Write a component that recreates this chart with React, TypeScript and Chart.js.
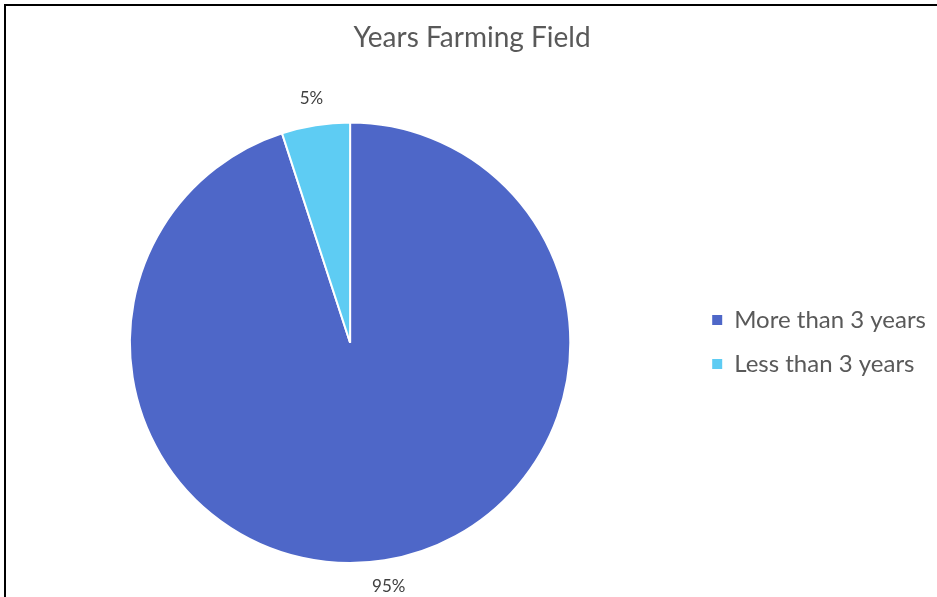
import React, { useEffect, useRef } from "react";
import { Chart, registerables } from "chart.js";

Chart.register(...registerables);

const title = "Years Farming Field";
const categories = ["More than 3 years", "Less than 3 years"];
const values = [95, 5];
const valueLabels = ["95%", "5%"];
const colors = ["#4E67C8", "#5ECCF3"];

const FONT = "Lato, 'Open Sans', sans-serif";

const outsideLabels = {
  id: "outsideLabels",
  afterDatasetsDraw(chart: any) {
    const meta = chart.getDatasetMeta(0);
    const ctx = chart.ctx;
    ctx.save();
    ctx.font = `17px ${FONT}`;
    ctx.fillStyle = "#404040";
    ctx.textAlign = "center";
    ctx.textBaseline = "middle";
    meta.data.forEach((arc: any, i: number) => {
      const { x, y, startAngle, endAngle, outerRadius } = arc.getProps(
        ["x", "y", "startAngle", "endAngle", "outerRadius"],
        true
      );
      const mid = (startAngle + endAngle) / 2;
      const r = outerRadius + 27;
      ctx.fillText(valueLabels[i], x + Math.cos(mid) * r, y + Math.sin(mid) * r);
    });
    ctx.restore();
  },
};

export default function App() {
  const ref = useRef<HTMLCanvasElement>(null);
  useEffect(() => {
    if (!ref.current) return;
    const baseGen = (Chart as any).overrides.pie.plugins.legend.labels.generateLabels;
    const chart = new Chart(ref.current, {
      type: "pie",
      data: {
        labels: categories,
        datasets: [
          {
            data: values,
            backgroundColor: colors,
            borderColor: "#ffffff",
            borderWidth: 2,
          },
        ],
      },
      options: {
        responsive: false,
        animation: false,
        layout: { padding: { top: 0, left: 8, right: 1, bottom: 33 } },
        plugins: {
          tooltip: { enabled: false },
          title: {
            display: true,
            text: title,
            color: "#595959",
            font: { family: FONT, size: 28, weight: "normal" },
            padding: { top: 21, bottom: 67 },
          },
          legend: {
            position: "right",
            title: {
              display: true,
              text: " ",
              font: { family: FONT, size: 12 },
              padding: { top: 0, bottom: 105.6 },
            },
            labels: {
              boxWidth: 10,
              boxHeight: 10,
              padding: 20,
              color: "#595959",
              font: { family: FONT, size: 24 },
              generateLabels: (c: any) =>
                baseGen(c).map((l: any) => ({ ...l, lineWidth: 0 })),
            },
          },
        },
      },
      plugins: [outsideLabels],
    });
    return () => chart.destroy();
  }, []);
  return (
    <div style={{ position: "absolute", left: 0, top: 0, width: 937, height: 597, background: "#fff" }}>
      <canvas ref={ref} width={937} height={597} style={{ position: "absolute", left: 0, top: 0 }} />
      <div
        style={{
          position: "absolute",
          left: 4,
          top: 4,
          right: 0,
          bottom: 0,
          borderLeft: "2px solid #000",
          borderTop: "2px solid #000",
          pointerEvents: "none",
        }}
      />
    </div>
  );
}
